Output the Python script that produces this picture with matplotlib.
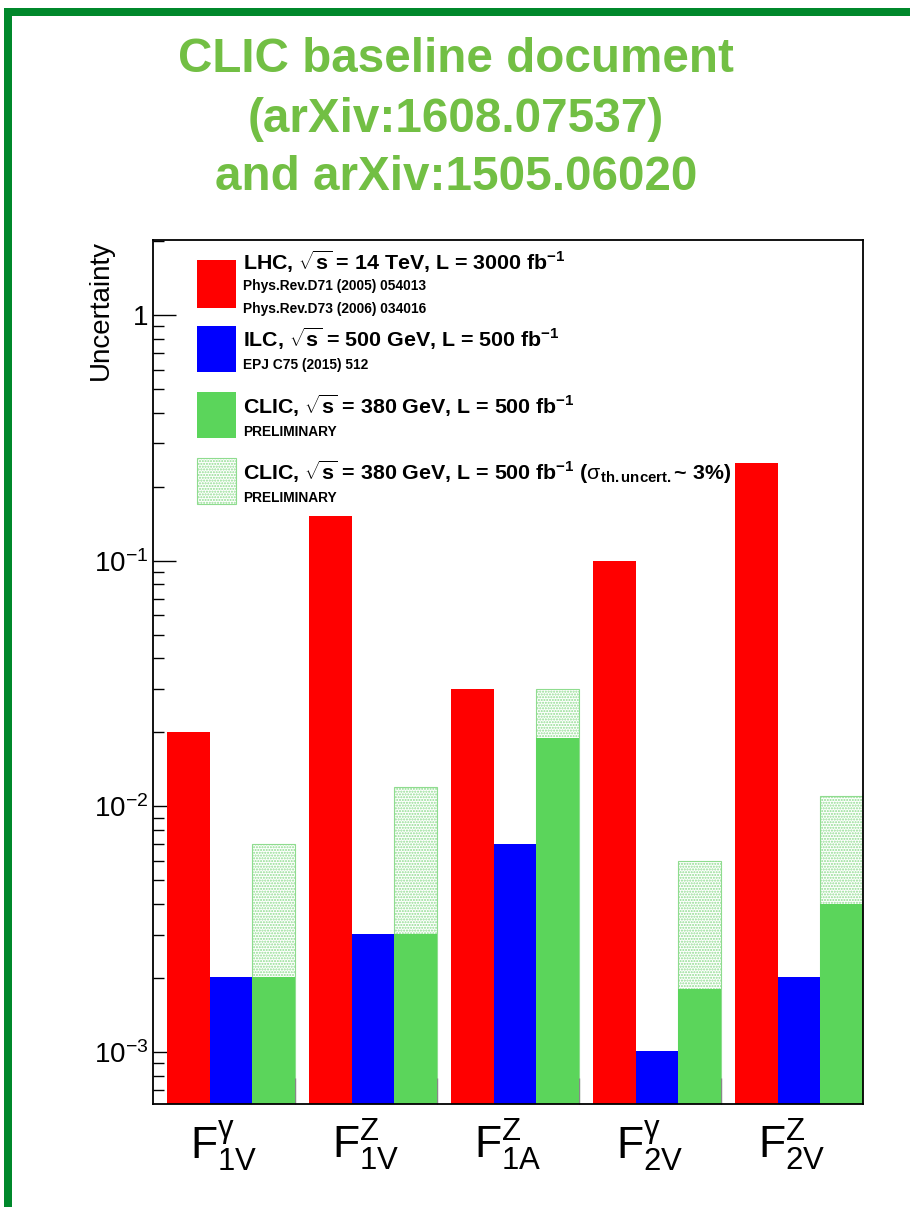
import matplotlib
matplotlib.use("Agg")
import matplotlib.pyplot as plt
from matplotlib.patches import Rectangle
import numpy as np

plt.rcParams['font.family'] = ['Liberation Sans', 'DejaVu Sans']
plt.rcParams['mathtext.fontset'] = 'custom'
plt.rcParams['mathtext.rm'] = 'Liberation Sans'
plt.rcParams['mathtext.it'] = 'Liberation Sans:italic'
plt.rcParams['mathtext.bf'] = 'Liberation Sans:bold'
plt.rcParams['hatch.linewidth'] = 1.0

# ---- data ----
categories = [r'$\mathrm{F}^{\mathrm{\gamma}}_{\mathrm{1V}}$', r'$\mathrm{F}^{\mathrm{Z}}_{\mathrm{1V}}$',
              r'$\mathrm{F}^{\mathrm{Z}}_{\mathrm{1A}}$', r'$\mathrm{F}^{\mathrm{\gamma}}_{\mathrm{2V}}$',
              r'$\mathrm{F}^{\mathrm{Z}}_{\mathrm{2V}}$']
lhc = [0.020, 0.152, 0.030, 0.100, 0.250]
ilc = [0.0020, 0.0030, 0.0070, 0.0010, 0.0020]
clic = [0.0020, 0.0030, 0.019, 0.0018, 0.0040]
clic_th = [0.0070, 0.012, 0.030, 0.0060, 0.011]
ytick_vals = [1e-3, 1e-2, 1e-1, 1]
ytick_labels = [r'$10^{-3}$', r'$10^{-2}$', r'$10^{-1}$', '1']

W, H = 910, 1207
fig = plt.figure(figsize=(W / 100, H / 100), dpi=100)

def fx(x):
    return x / W

def fy(y):
    return 1 - y / H

# border
border_col = '#00882B'
fig.patches.append(Rectangle((fx(4), fy(16)), 1 - fx(4), 8 / H, transform=fig.transFigure,
                             facecolor=border_col, edgecolor='none'))
fig.patches.append(Rectangle((fx(4), 0), 8 / W, fy(8), transform=fig.transFigure,
                             facecolor=border_col, edgecolor='none'))

# title
title_col = '#72BF44'
for txt, yy in [('CLIC baseline document', 60), ('(arXiv:1608.07537)', 119),
                ('and arXiv:1505.06020', 178)]:
    fig.text(fx(456), fy(yy), txt, ha='center', va='center', fontsize=34.3,
             fontweight='bold', color=title_col)

ax = fig.add_axes([fx(153), fy(1104), fx(863) - fx(153), (1104 - 240) / H])
ax.set_yscale('log')
ax.set_ylim(6.14e-4, 2.02)
ax.set_xlim(0, 5)

x = np.arange(len(categories))
bw = 0.3
ax.bar(x + 0.1, lhc, width=bw, align='edge', color='#FF0000', bottom=1e-5, zorder=2)
ax.bar(x + 0.1 + bw, ilc, width=bw, align='edge', color='#0000FF', bottom=1e-5, zorder=2)
ax.bar(x + 0.1 + 2 * bw, clic_th, width=bw, align='edge', facecolor='white',
       edgecolor='#8FDC8F', hatch='......', linewidth=0.8, bottom=1e-5, zorder=1)
ax.bar(x + 0.1 + 2 * bw, clic, width=bw, align='edge', color='#5BD55B', bottom=1e-5, zorder=2)

# axes styling
for s in ax.spines.values():
    s.set_linewidth(1.3)
ax.set_yticks(ytick_vals)
ax.set_yticklabels(ytick_labels, fontsize=20)
ax.yaxis.set_minor_locator(matplotlib.ticker.LogLocator(base=10, subs=np.arange(2, 10)))
ax.yaxis.set_minor_formatter(matplotlib.ticker.NullFormatter())
ax.tick_params(axis='y', which='major', direction='in', length=16.5, width=1.0, pad=3)
ax.tick_params(axis='y', which='minor', direction='in', length=8, width=1.0)

ax.set_xticks(x + 0.5)
ax.set_xticklabels(categories, fontsize=32)
ax.tick_params(axis='x', which='major', length=0, pad=10)
ax.set_xticks(np.arange(1, 5), minor=True)
ax.tick_params(axis='x', which='minor', direction='in', length=19, width=1.0, color='#888888')

ax.set_ylabel('Uncertainty', fontsize=20, loc='top')
ax.yaxis.set_label_coords((88 - 153) / 710, 1.0)
ax.yaxis.label.set_va('top')

# legend (manual)
big, small = 15.4, 9.9
leg = [
    ('#FF0000', None, 260, 308,
     [(r'LHC, $\mathbf{\sqrt{s}}$ = 14 TeV, L = 3000 fb$^{\mathbf{-1}}$', 262, big),
      ('Phys.Rev.D71 (2005) 054013', 286, small),
      ('Phys.Rev.D73 (2006) 034016', 309, small)]),
    ('#0000FF', None, 326, 372,
     [(r'ILC, $\mathbf{\sqrt{s}}$ = 500 GeV, L = 500 fb$^{\mathbf{-1}}$', 339, big),
      ('EPJ C75 (2015) 512', 365, small)]),
    ('#5BD55B', None, 392, 438,
     [(r'CLIC, $\mathbf{\sqrt{s}}$ = 380 GeV, L = 500 fb$^{\mathbf{-1}}$', 406, big),
      ('PRELIMINARY', 432, small)]),
    ('white', '......', 458, 504,
     [(r'CLIC, $\mathbf{\sqrt{s}}$ = 380 GeV, L = 500 fb$^{\mathbf{-1}}$ ($\mathrm{\sigma}_{\mathbf{th.uncert.}}$~ 3%)', 472, big),
      ('PRELIMINARY', 498, small)]),
]
for col, hatch, y0, y1, lines in leg:
    if hatch:
        r = Rectangle((fx(197), fy(y1)), 39 / W, (y1 - y0) / H, transform=fig.transFigure,
                      facecolor='white', edgecolor='#8FDC8F', hatch=hatch, linewidth=0.8)
    else:
        r = Rectangle((fx(197), fy(y1)), 39 / W, (y1 - y0) / H, transform=fig.transFigure,
                      facecolor=col, edgecolor='none')
    fig.patches.append(r)
    for t, yy, fs in lines:
        fig.text(fx(243), fy(yy), t, ha='left', va='center', fontsize=fs, fontweight='bold')

fig.savefig('out.png', dpi=100)
